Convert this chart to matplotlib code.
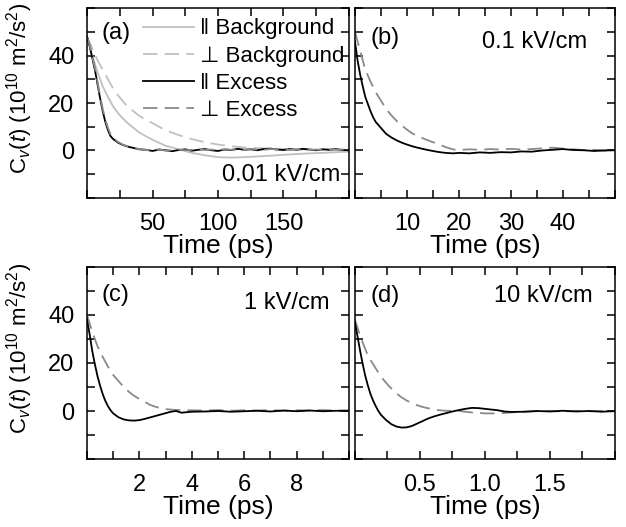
import numpy as np
import matplotlib
matplotlib.use('Agg')
import matplotlib.pyplot as plt

plt.rcParams['font.family'] = ['Liberation Sans', 'DejaVu Sans']
plt.rcParams['mathtext.fontset'] = 'custom'
plt.rcParams['mathtext.rm'] = 'Liberation Sans'
plt.rcParams['mathtext.it'] = 'Liberation Sans:italic'

# ---- data ----
# (a) 0.01 kV/cm, time in ps
t_a_ex = [0, 2, 4, 6, 8, 10, 12, 14, 16, 18, 20, 24, 28, 32, 36, 40, 45, 50, 55, 60, 65, 70, 75, 80,
          85, 90, 95, 100, 105, 110, 115, 120, 125, 130, 135, 140, 145, 150, 155, 160, 165, 170,
          175, 180, 185, 190, 195, 200]
par_ex_a = [48, 44, 39, 34, 28, 22, 16.5, 12, 8.5, 6, 4.8, 3.2, 2.2, 1.5, 1, 0.5, 0.3, -0.2, 0.4, 0.1,
            -0.3, 0.2, 0.5, -0.1, 0.3, 0.6, 0.1, -0.2, 0.4, 0.2, 0.7, 0.3, 0.5, 0.1, 0.6, 0.8, 0.4,
            0.2, 0.6, 0.3, 0.7, 0.4, 0.1, 0.5, 0.3, 0.6, 0.2, 0.1]
perp_ex_a = [48, 44.5, 39.5, 35, 29, 23, 17.5, 13, 9.5, 6.8, 5.2, 3.5, 2.3, 1.6, 1, 0.6, 0.2, 0.1, 0.5,
             -0.1, 0.2, 0.4, 0.1, 0.3, 0.5, 0.2, 0.4, 0.1, 0.6, 0.3, 0.5, 0.2, 0.7, 0.4, 0.3, 0.6,
             0.5, 0.4, 0.2, 0.5, 0.6, 0.3, 0.4, 0.2, 0.5, 0.3, 0.4, 0.2]
t_a_bg = [0, 4, 8, 12, 16, 20, 24, 30, 40, 50, 60, 70, 80, 90, 100, 110, 120, 130, 140, 150, 160,
          170, 180, 190, 200]
par_bg_a = [48, 40, 33, 27, 22.5, 18.5, 15.5, 12, 7.5, 4.5, 2, 0.5, -1, -2, -2.8, -3, -2.8, -2.5,
            -2.2, -1.8, -1.5, -1.2, -1, -0.7, -0.5]
perp_bg_a = [48, 43, 38, 34, 30, 26, 23, 19, 14.5, 11.5, 8.5, 6.5, 4.8, 3.5, 2.5, 1.8, 1.3, 1, 0.8,
             0.6, 0.5, 0.4, 0.4, 0.3, 0.3]

# (b) 0.1 kV/cm
t_b_par = [0, 0.5, 1, 1.5, 2, 2.5, 3, 3.5, 4, 5, 6, 7, 8, 9, 10, 11, 12, 13, 14, 15, 16, 17, 18, 19,
           20, 22, 24, 26, 28, 30, 32, 34, 36, 38, 40, 42, 44, 46, 48, 50]
par_ex_b = [46, 38, 32, 27, 22.5, 19.5, 16.5, 14, 12, 9.5, 7, 5.5, 4.3, 3.3, 2.5, 1.8, 1.2, 0.7, 0.2,
            -0.2, -0.6, -0.9, -1.1, -1.2, -1, -1.2, -0.8, -1, -0.7, -0.8, -0.4, -0.5, 0, 0.3, 0.6,
            0.2, 0.1, -0.2, 0, 0.1]
t_b_perp = [0, 1, 2, 3, 4, 5, 6, 7, 8, 9, 10, 11, 12, 13, 14, 15, 16, 17, 18, 19, 20, 22, 24, 26, 28,
            30, 32, 34, 36, 38, 40, 42, 44, 46, 48, 50]
perp_ex_b = [50, 42, 34, 29, 24.5, 21, 17.5, 14.8, 12.5, 10.5, 8.8, 7.2, 6.2, 5.2, 4.3, 3.5, 2.7,
             1.8, 1, 0.4, 0.2, 0.5, 0.3, 0.6, 0.4, 0.7, 0.4, 0.6, 0.9, 1.2, 0.8, 0.5, 0.2, 0.3, 0,
             0.2]

# (c) 1 kV/cm
t_c_par = [0, 0.1, 0.2, 0.3, 0.4, 0.5, 0.6, 0.7, 0.8, 0.9, 1.0, 1.2, 1.4, 1.6, 1.8, 2.0, 2.2, 2.4,
           2.6, 2.8, 3.0, 3.2, 3.4, 3.6, 3.8, 4, 4.5, 5, 5.5, 6, 6.5, 7, 7.5, 8, 8.5, 9, 9.5, 10]
par_ex_c = [38, 32, 25, 19.5, 14.5, 10.5, 7, 4.2, 2, 0.3, -1, -2.6, -3.5, -3.9, -4, -3.8, -3.3, -2.7,
            -2.1, -1.5, -0.9, -0.3, 0, -0.7, -0.5, -0.3, -0.2, 0, -0.3, -0.1, 0.1, -0.2, 0.2, -0.1,
            0.2, -0.1, 0.1, 0]
t_c_perp = [0, 0.2, 0.4, 0.6, 0.8, 1.0, 1.2, 1.4, 1.6, 1.8, 2.0, 2.2, 2.4, 2.6, 2.8, 3.0, 3.3, 3.6,
            4, 4.5, 5, 5.5, 6, 6.5, 7, 7.5, 8, 8.5, 9, 9.5, 10]
perp_ex_c = [40, 33, 27, 22.5, 18.5, 15, 12.5, 10, 8, 6.3, 5, 3.8, 2.6, 1.8, 1.2, 0.8, 0.5, 0.4, 0.3,
             0.2, 0.4, 0.1, 0.3, 0.2, 0.4, 0.1, 0.3, 0.2, 0.4, 0.2, 0.3]

# (d) 10 kV/cm
t_d_par = [0, 0.02, 0.04, 0.06, 0.08, 0.1, 0.12, 0.14, 0.16, 0.18, 0.2, 0.24, 0.28, 0.32, 0.36, 0.4,
           0.44, 0.48, 0.52, 0.56, 0.6, 0.65, 0.7, 0.75, 0.8, 0.85, 0.9, 0.95, 1.0, 1.05, 1.1, 1.15,
           1.2, 1.3, 1.4, 1.5, 1.6, 1.7, 1.8, 1.9, 2.0]
par_ex_d = [37, 31, 25, 19.5, 14.5, 10.5, 7, 4.3, 2, 0, -1.6, -3.8, -5.5, -6.5, -6.9, -6.8, -6.2,
            -5.2, -4.2, -3.2, -2.4, -1.6, -0.9, -0.2, 0.4, 0.9, 1.3, 1.2, 0.9, 0.6, 0.3, -0.2, -0.4,
            -0.3, 0, -0.2, 0.1, -0.2, 0, -0.3, 0]
t_d_perp = [0, 0.03, 0.06, 0.1, 0.14, 0.18, 0.22, 0.26, 0.3, 0.35, 0.4, 0.45, 0.5, 0.55, 0.6, 0.65,
            0.7, 0.8, 0.9, 1.0, 1.1, 1.2, 1.3, 1.4, 1.5, 1.6, 1.7, 1.8, 1.9, 2.0]
perp_ex_d = [38, 33, 28.5, 23, 19.5, 16, 13, 10.5, 8.3, 6, 4.3, 3, 2, 1.3, 0.7, 0.3, 0.1, 0, -0.6,
             -1, -1, -0.6, -0.3, -0.1, 0, -0.2, 0, -0.1, 0, -0.2]

fields = ['0.01 kV/cm', '0.1 kV/cm', '1 kV/cm', '10 kV/cm']
letters = ['(a)', '(b)', '(c)', '(d)']
xmax = [200, 50, 10, 2]
xstep = [25, 5, 1, 0.25]
xlabeled = [[50, 100, 150], [10, 20, 30, 40], [2, 4, 6, 8], [0.5, 1.0, 1.5]]

c_bg = '#c0c0c0'
c_perp = '#8a8a8a'
fs = 17

fig = plt.figure(figsize=(6.26, 5.27), dpi=100)
boxes = [[0.139, 0.6243, 0.4185, 0.3605], [0.567, 0.6243, 0.4154, 0.3605],
         [0.139, 0.129, 0.4185, 0.3644], [0.567, 0.129, 0.4154, 0.3644]]
axes = [fig.add_axes(b) for b in boxes]

ax = axes[0]
ax.plot(t_a_bg, par_bg_a, color=c_bg, lw=1.3, label='‖ Background')
ax.plot(t_a_bg, perp_bg_a, color=c_bg, lw=1.3, ls=(0, (8, 4)), label='⊥ Background')
ax.plot(t_a_ex, par_ex_a, color='black', lw=1.3, label='‖ Excess')
ax.plot(t_a_ex, perp_ex_a, color=c_perp, lw=1.3, ls=(0, (8, 4)), label='⊥ Excess')
ax.legend(loc='upper left', bbox_to_anchor=(0.215, 0.945), frameon=False, fontsize=16,
          handlelength=2.3, handletextpad=0.25, labelspacing=0.28, borderpad=0, borderaxespad=0)

axes[1].plot(t_b_perp, perp_ex_b, color=c_perp, lw=1.3, ls=(0, (8, 4)))
axes[1].plot(t_b_par, par_ex_b, color='black', lw=1.3)
axes[2].plot(t_c_perp, perp_ex_c, color=c_perp, lw=1.3, ls=(0, (8, 4)))
axes[2].plot(t_c_par, par_ex_c, color='black', lw=1.3)
axes[3].plot(t_d_perp, perp_ex_d, color=c_perp, lw=1.3, ls=(0, (8, 4)))
axes[3].plot(t_d_par, par_ex_d, color='black', lw=1.3)

letter_pos = [(0.057, 0.868), (0.058, 0.842), (0.057, 0.854), (0.058, 0.849)]
field_pos = [(0.966, 0.121), (0.892, 0.821), (0.927, 0.8125), (0.915, 0.849)]

for i, ax in enumerate(axes):
    ax.set_xlim(0, xmax[i])
    ax.set_ylim(-20, 60)
    xt = np.arange(0, xmax[i] + xstep[i] / 2, xstep[i])
    fmt = '%.1f' if i == 3 else '%g'
    ax.set_xticks(xt)
    ax.set_xticklabels([fmt % v if any(abs(v - l) < 1e-9 for l in xlabeled[i]) else ''
                        for v in xt])
    yt = np.arange(-20, 61, 10)
    ax.set_yticks(yt)
    if i % 2 == 0:
        ax.set_yticklabels(['%d' % v if v in (0, 20, 40) else '' for v in yt])
        ax.set_ylabel(r'C$_v$($t$) (10$^{10}$ m$^2$/s$^2$)', fontsize=16)
        ax.yaxis.set_label_coords(-0.2, 0.575)
    else:
        ax.set_yticklabels([])
    ax.tick_params(direction='in', top=True, right=True, length=6, width=1.1, labelsize=fs)
    ax.tick_params(axis='x', pad=11)
    ax.tick_params(axis='y', pad=9)
    ax.set_xlabel('Time (ps)', fontsize=19, labelpad=-1)
    for s in ax.spines.values():
        s.set_linewidth(1.1)
    lx, ly = letter_pos[i]
    ax.text(lx, ly, letters[i], transform=ax.transAxes, fontsize=fs, va='center', ha='left')
    fx, fy = field_pos[i]
    ax.text(fx, fy, fields[i], transform=ax.transAxes, fontsize=fs, va='center', ha='right')

fig.savefig('out.png', dpi=100)
